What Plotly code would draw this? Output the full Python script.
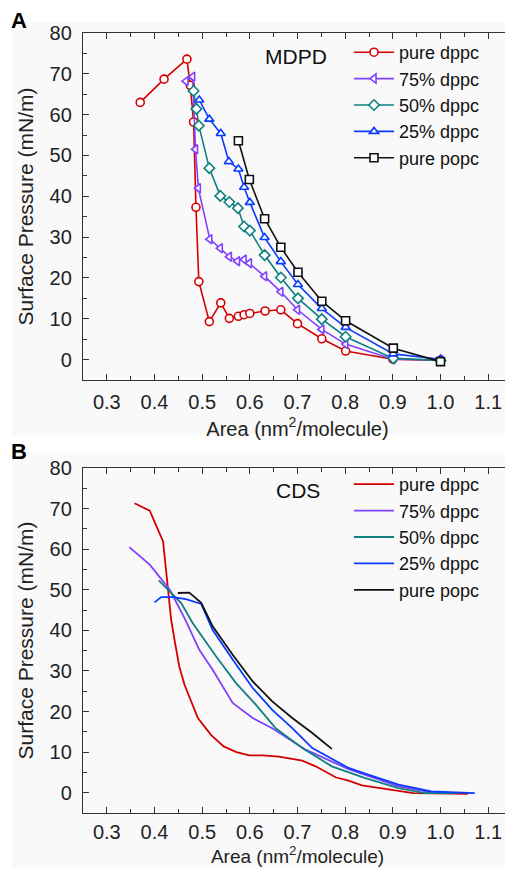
import plotly.graph_objects as go

# ---------------- data ----------------
series_names = ["pure dppc", "75% dppc", "50% dppc", "25% dppc", "pure popc"]
colors = ["#d40000", "#8040ff", "#0f8080", "#0a3cff", "#111111"]
symbols_a = ["circle", "triangle-left", "diamond", "triangle-up", "square"]

# Panel A (MDPD)
a_red_x = [0.37, 0.42, 0.468, 0.475, 0.482, 0.487, 0.493, 0.515, 0.539, 0.557, 0.576, 0.588, 0.600, 0.632, 0.665, 0.700, 0.751, 0.801, 0.900, 1.000]
a_red_y = [63.0, 68.7, 73.6, 67.2, 58.2, 37.3, 19.1, 9.3, 13.9, 10.1, 10.6, 11.0, 11.3, 11.9, 12.2, 8.8, 5.1, 2.1, 0.1, -0.2]
a_pur_x = [0.466, 0.480, 0.486, 0.492, 0.516, 0.538, 0.557, 0.574, 0.588, 0.599, 0.631, 0.665, 0.700, 0.751, 0.801, 0.900, 1.000]
a_pur_y = [68.2, 69.3, 51.5, 42.0, 29.5, 27.3, 25.2, 24.1, 24.5, 23.6, 20.4, 16.6, 12.2, 7.4, 3.8, 0.1, -0.1]
a_teal_x = [0.482, 0.488, 0.493, 0.515, 0.538, 0.557, 0.575, 0.588, 0.600, 0.631, 0.665, 0.701, 0.751, 0.801, 0.901, 1.000]
a_teal_y = [65.8, 61.4, 57.3, 46.9, 40.1, 38.6, 37.1, 32.6, 31.6, 25.6, 20.1, 15.0, 9.9, 5.6, 0.3, -0.2]
a_blue_x = [0.494, 0.515, 0.539, 0.556, 0.576, 0.588, 0.600, 0.631, 0.665, 0.701, 0.751, 0.801, 0.901, 1.000]
a_blue_y = [63.6, 58.9, 55.4, 48.5, 46.7, 42.2, 38.5, 29.9, 24.0, 18.4, 12.5, 7.9, 1.4, 0.1]
a_blk_x = [0.576, 0.599, 0.631, 0.665, 0.701, 0.751, 0.801, 0.901, 1.000]
a_blk_y = [53.6, 44.1, 34.5, 27.5, 21.4, 14.3, 9.5, 2.8, -0.5]

# Panel B (CDS)
b_red_x = [0.358, 0.39, 0.418, 0.428, 0.435, 0.443, 0.452, 0.463, 0.491, 0.519, 0.545, 0.572, 0.599, 0.626, 0.661, 0.71, 0.738, 0.78, 0.807, 0.835, 0.898, 0.943, 1.058]
b_red_y = [71.3, 69.5, 61.9, 50.8, 42.6, 37.0, 31.1, 26.6, 18.4, 14.2, 11.4, 10.0, 9.2, 9.2, 8.9, 7.9, 6.5, 3.8, 3.0, 1.8, 0.7, -0.1, -0.3]
b_pur_x = [0.347, 0.39, 0.432, 0.463, 0.494, 0.522, 0.564, 0.606, 0.647, 0.717, 0.807, 0.842, 0.912, 0.981, 1.03]
b_pur_y = [60.5, 56.2, 50.0, 43.0, 35.2, 30.3, 22.1, 18.4, 15.9, 10.6, 5.8, 4.4, 1.55, 0.07, -0.1]
b_teal_x = [0.409, 0.456, 0.48, 0.529, 0.571, 0.6125, 0.654, 0.71, 0.772, 0.842, 0.912, 0.967, 1.037]
b_teal_y = [52.3, 46.7, 41.8, 33.6, 27.0, 21.7, 15.9, 11.0, 6.5, 3.6, 1.15, -0.1, -0.1]
b_blue_x = [0.400, 0.414, 0.438, 0.466, 0.498, 0.522, 0.564, 0.606, 0.647, 0.689, 0.731, 0.772, 0.807, 0.842, 0.912, 0.981, 1.072]
b_blue_y = [46.9, 48.2, 48.2, 47.7, 46.5, 40.1, 32.8, 25.8, 20.4, 15.9, 11.0, 8.3, 6.1, 4.7, 2.0, 0.3, -0.1]
b_blk_x = [0.449, 0.473, 0.498, 0.522, 0.564, 0.606, 0.647, 0.689, 0.731, 0.772]
b_blk_y = [49.2, 49.3, 46.8, 41.0, 34.0, 27.4, 22.5, 18.4, 14.7, 10.8]

x_ticks = [0.3, 0.4, 0.5, 0.6, 0.7, 0.8, 0.9, 1.0, 1.1]
y_ticks = [0, 10, 20, 30, 40, 50, 60, 70, 80]

panel_a = [(a_red_x, a_red_y), (a_pur_x, a_pur_y), (a_teal_x, a_teal_y), (a_blue_x, a_blue_y), (a_blk_x, a_blk_y)]
panel_b = [(b_red_x, b_red_y), (b_pur_x, b_pur_y), (b_teal_x, b_teal_y), (b_blue_x, b_blue_y), (b_blk_x, b_blk_y)]

# ---------------- figure ----------------
# The page body has an 8px margin, so the figure is sized/offset to fit the 513x875 window.
OFF = 8
W, H = 513 - OFF, 875 - 2 * OFF
FONT = "Liberation Sans, Arial, sans-serif"


def px_x(p):
    return (p - OFF) / W


def px_y(p):
    return 1 - (p - OFF) / H


fig = go.Figure()

for (xs, ys), name, col, sym in zip(panel_a, series_names, colors, symbols_a):
    fig.add_trace(go.Scatter(
        x=xs, y=ys, name=name, mode="lines+markers",
        line=dict(color=col, width=1.6),
        marker=dict(symbol=sym, size=8, color="white", line=dict(color=col, width=1.6)),
        xaxis="x", yaxis="y", legend="legend"))

for (xs, ys), name, col in zip(panel_b, series_names, colors):
    fig.add_trace(go.Scatter(
        x=xs, y=ys, name=name, mode="lines",
        line=dict(color=col, width=1.8),
        xaxis="x2", yaxis="y2", legend="legend2"))

xl, xr = px_x(83), px_x(512)
a_top, a_bot = px_y(33), px_y(380)
b_top, b_bot = px_y(468), px_y(813)


def xaxis_cfg(anchor, lab_standoff, title_size, title_standoff):
    return dict(domain=[xl, xr], range=[0.25, 1.15], anchor=anchor, automargin=False,
                tickvals=x_ticks, ticktext=["%.1f" % v for v in x_ticks],
                ticks="inside", ticklen=6, tickwidth=1.2, tickcolor="#333",
                minor=dict(dtick=0.05, tick0=0.25, ticks="inside", ticklen=3.5, tickwidth=1.2, tickcolor="#333"),
                showline=True, linecolor="#333", linewidth=1.4, mirror="ticks",
                showgrid=False, zeroline=False, ticklabelstandoff=lab_standoff,
                tickfont=dict(size=20, color="#222"),
                title=dict(text="Area (nm<sup>2</sup>/molecule)", font=dict(size=title_size, color="#222"),
                           standoff=title_standoff))


def yaxis_cfg(anchor, dom):
    return dict(domain=dom, range=[-5, 80], anchor=anchor, automargin=False,
                tickvals=y_ticks, ticks="inside", ticklen=6, tickwidth=1.2, tickcolor="#333",
                minor=dict(dtick=5, tick0=-5, ticks="inside", ticklen=3.5, tickwidth=1.2, tickcolor="#333"),
                showline=True, linecolor="#333", linewidth=1.4, mirror="ticks",
                showgrid=False, zeroline=False, ticklabelstandoff=6,
                tickfont=dict(size=20, color="#222"),
                title=dict(text="Surface Pressure (mN/m)", font=dict(size=21, color="#222"), standoff=10))


legend_common = dict(font=dict(size=18, family=FONT, color="#111"), bgcolor="rgba(0,0,0,0)",
                     xanchor="left", yanchor="top", itemwidth=40, tracegroupgap=0)

fig.update_layout(
    width=W, height=H, margin=dict(l=0, r=0, t=0, b=0, autoexpand=False),
    paper_bgcolor="white", plot_bgcolor="rgba(0,0,0,0)",
    font=dict(family=FONT, color="#222"),
    xaxis=xaxis_cfg("y", 4, 20, 9), yaxis=yaxis_cfg("x", [a_bot, a_top]),
    xaxis2=xaxis_cfg("y2", 1, 19, 4), yaxis2=yaxis_cfg("x2", [b_bot, b_top]),
    legend=dict(x=px_x(349), y=px_y(34), **legend_common),
    legend2=dict(x=px_x(349), y=px_y(466), **legend_common),
    shapes=[
        dict(type="rect", xref="paper", yref="paper", x0=px_x(12), x1=1, y0=px_y(435), y1=px_y(22),
             fillcolor="#f9f9f9", line=dict(width=0), layer="below"),
        dict(type="rect", xref="paper", yref="paper", x0=px_x(12), x1=1, y0=0, y1=px_y(452),
             fillcolor="#f9f9f9", line=dict(width=0), layer="below"),
    ],
    annotations=[
        dict(text="<b>A</b>", x=px_x(9), y=px_y(20), xref="paper", yref="paper", xanchor="left", yanchor="middle",
             showarrow=False, font=dict(size=22, color="#000")),
        dict(text="<b>B</b>", x=px_x(9), y=px_y(452), xref="paper", yref="paper", xanchor="left", yanchor="middle",
             showarrow=False, font=dict(size=22, color="#000")),
        dict(text="MDPD", x=px_x(296), y=px_y(57), xref="paper", yref="paper", xanchor="center", yanchor="middle",
             showarrow=False, font=dict(size=21, color="#111")),
        dict(text="CDS", x=px_x(298), y=px_y(490), xref="paper", yref="paper", xanchor="center", yanchor="middle",
             showarrow=False, font=dict(size=21, color="#111")),
    ],
)

fig.write_html("out.html")
